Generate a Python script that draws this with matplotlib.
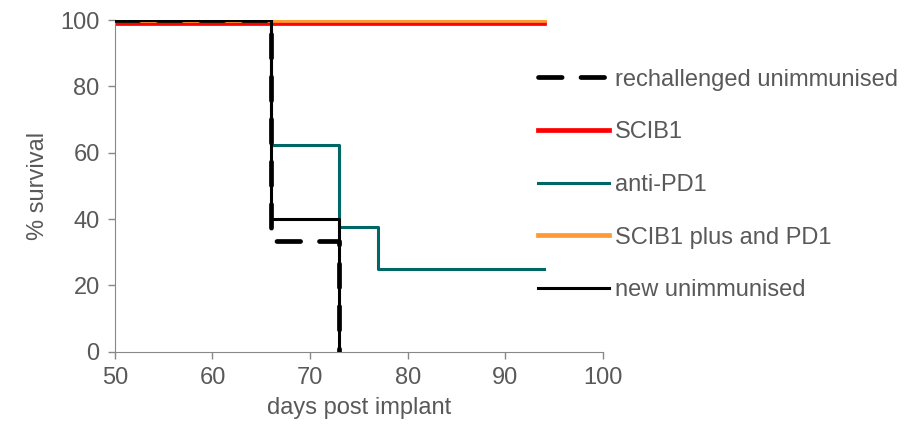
import matplotlib.pyplot as plt

plt.rcParams["font.family"] = ["Liberation Sans", "DejaVu Sans"]
text_color = "#595959"

# survival data (days, % surviving)
rech_days = [50, 66, 73]
rech_surv = [100, 33.3, 0]
scib1_days = [50, 94]
scib1_surv = [99, 99]
pd1_days = [50, 66, 73, 77, 94]
pd1_surv = [100, 62.5, 37.5, 25, 25]
combo_days = [50, 94]
combo_surv = [100, 100]
new_days = [50, 66, 73]
new_surv = [100, 40, 0]

fs = 17

fig = plt.figure(figsize=(9.12, 4.28), dpi=100)
ax = fig.add_axes([0.126, 0.178, 0.535, 0.775])

l_scib1, = ax.step(scib1_days, scib1_surv, where="post", color="#FF0000", lw=3.4, zorder=2)
l_combo, = ax.step(combo_days, combo_surv, where="post", color="#FF9933", lw=3.4, zorder=2)
l_pd1, = ax.step(pd1_days, pd1_surv, where="post", color="#006666", lw=2.2, zorder=3)
l_new, = ax.step(new_days, new_surv, where="post", color="black", lw=2.2, zorder=4)
l_rech, = ax.step(rech_days, rech_surv, where="post", color="black", lw=3.4,
                  dashes=(5, 4), dash_capstyle="round", zorder=5)

ax.set_xlim(50, 100)
ax.set_ylim(0, 100)
ax.set_xticks(range(50, 101, 10))
ax.set_yticks(range(0, 101, 20))
ax.set_xlabel("days post implant", fontsize=fs, color=text_color, labelpad=6)
ax.set_ylabel("% survival", fontsize=fs, color=text_color, labelpad=8)
ax.tick_params(labelsize=fs, colors="#888888", labelcolor=text_color, length=5, width=1, pad=6)
for s in ["top", "right"]:
    ax.spines[s].set_visible(False)
for s in ["left", "bottom"]:
    ax.spines[s].set_color("#888888")

fig.legend([l_rech, l_scib1, l_pd1, l_combo, l_new],
           ["rechallenged unimmunised", "SCIB1", "anti-PD1", "SCIB1 plus and PD1", "new unimmunised"],
           loc="upper left", bbox_to_anchor=(0.580, 0.862), frameon=False,
           fontsize=fs, labelcolor=text_color, handlelength=3.0, handletextpad=0.25,
           labelspacing=1.3, borderaxespad=0)

fig.savefig("out.png", dpi=100, facecolor="white")
